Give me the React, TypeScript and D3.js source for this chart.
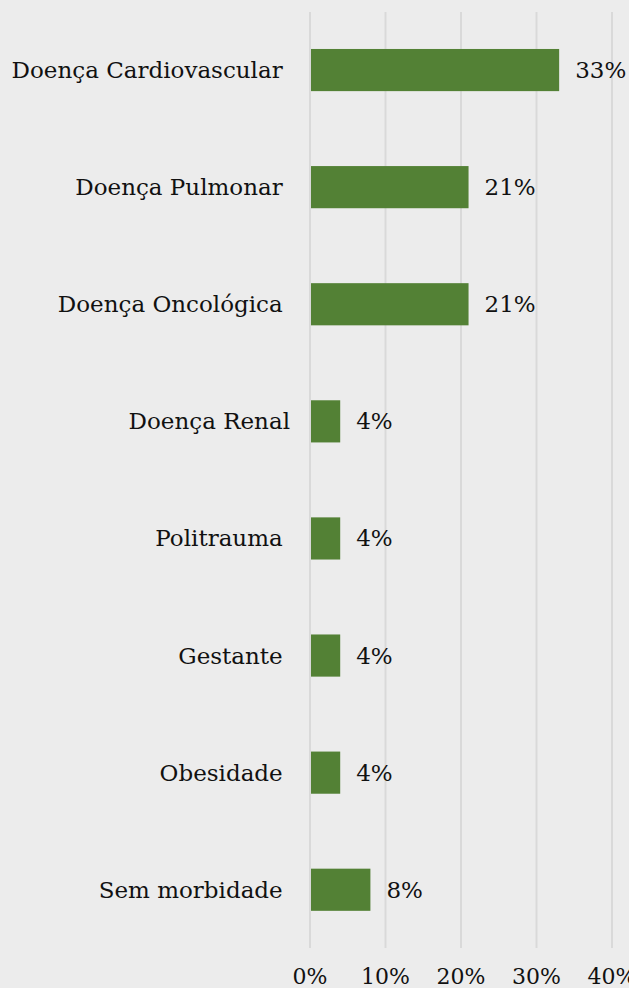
import React from "react";
import * as d3 from "d3";

const categories = [
  "Doença Cardiovascular ",
  "Doença Pulmonar ",
  "Doença Oncológica ",
  "Doença Renal",
  "Politrauma ",
  "Gestante ",
  "Obesidade ",
  "Sem morbidade ",
];
const values = [33, 21, 21, 4, 4, 4, 4, 8];
const ticks = [0, 10, 20, 30, 40];

const W = 629;
const H = 988;
const FONT = "'DejaVu Serif', serif";

export default function App() {
  const x = d3.scaleLinear().domain([0, 40]).range([310, 612]);
  const y = d3
    .scaleBand<string>()
    .domain(categories)
    .range([11.5, 948.3])
    .paddingInner(0.64)
    .paddingOuter(0.32);

  return (
    <svg
      width={W}
      height={H}
      style={{ position: "absolute", left: 0, top: 0, background: "#ececec" }}
    >
      <rect x={0} y={0} width={W} height={H} fill="#ececec" />
      {ticks.map((t) => (
        <line
          key={"g" + t}
          x1={x(t)}
          x2={x(t)}
          y1={12}
          y2={948}
          stroke="#d9d9d9"
          strokeWidth={2}
        />
      ))}
      {categories.map((c, i) => (
        <g key={c}>
          <rect
            x={x(0) + 1}
            y={y(c)}
            width={x(values[i]) - x(0) - 1}
            height={y.bandwidth()}
            fill="#538135"
          />
          <text
            x={290}
            y={(y(c) as number) + y.bandwidth() / 2}
            textAnchor="end"
            dominantBaseline="central"
            fontFamily={FONT}
            fontSize={23}
            fill="#111"
            style={{ whiteSpace: "pre" }}
          >
            {c}
          </text>
          <text
            x={x(values[i]) + 16}
            y={(y(c) as number) + y.bandwidth() / 2}
            dominantBaseline="central"
            fontFamily={FONT}
            fontSize={23}
            fill="#111"
          >
            {values[i] + "%"}
          </text>
        </g>
      ))}
      {ticks.map((t) => (
        <text
          key={"t" + t}
          x={x(t)}
          y={984}
          textAnchor="middle"
          fontFamily={FONT}
          fontSize={22}
          fill="#111"
        >
          {t + "%"}
        </text>
      ))}
    </svg>
  );
}
